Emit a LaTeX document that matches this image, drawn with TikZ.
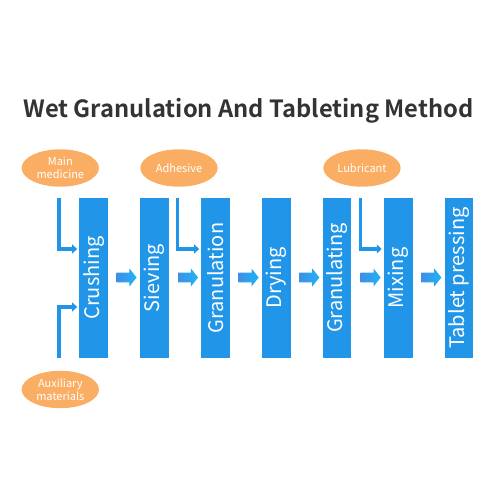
\documentclass[tikz,border=0pt]{standalone}
\usepackage{fontspec}
\setmainfont{Noto Sans CJK SC}[BoldFont={Noto Sans CJK SC Bold}]
\usetikzlibrary{arrows.meta,shapes.arrows,shapes.geometric}
\definecolor{barblue}{HTML}{2196E9}
\definecolor{arrL}{HTML}{3F8FE5}
\definecolor{arrR}{HTML}{1EB4F7}
\definecolor{ellor}{HTML}{FAAE64}
\definecolor{titlegray}{HTML}{333333}
\tikzset{
  bar/.style={rectangle, fill=barblue, minimum width=28.7pt, minimum height=159.5pt, inner sep=0pt},
  barlabel/.style={rotate=90, text=white, font=\fontsize{20}{22}\selectfont, inner sep=0pt},
  ing/.style={ellipse, fill=ellor, minimum width=77.4pt, minimum height=37.4pt, inner sep=0pt, text=white, align=center, font=\fontsize{11}{12.5}\selectfont},
  feed/.style={draw=barblue, line width=3.3pt, -{Triangle[length=5pt,width=9pt]}, shorten >=2pt},
  blk/.style={single arrow, minimum height=20pt, inner xsep=0pt, inner ysep=4.65pt, text height=0pt, text depth=0pt, text width=0pt, single arrow head extend=4.15pt, single arrow tip angle=103, left color=arrL, right color=arrR, shading angle=90},
}
\begin{document}
\begin{tikzpicture}[x=1pt,y=-1pt]
\useasboundingbox (0,0) rectangle (500,500);
\node[font=\bfseries\fontsize{23.7}{26}\selectfont, text=titlegray] (title) at (248.5,111) {Wet Granulation And Tableting Method};
% ingredient ellipses
\node[ing] (main) at (60.3,168) {Main\\medicine};
\node[ing] (adh) at (179,168) {Adhesive};
\node[ing] (lub) at (362,168) {Lubricant};
\node[ing] (aux) at (60.3,389.5) {Auxiliary\\materials};
% bars
\foreach \n/\x/\t in {crush/93.7/Crushing, siev/154.2/Sieving, gran/215.7/Granulation, dry/276.3/Drying, granu/337/Granulating, mix/398.3/Mixing, tab/459/Tablet pressing}{
  \node[bar] (\n) at (\x,278) {};
  \node[barlabel] (\n-t) at (\x,278) {\t};
}
% block arrows
\foreach \a/\b/\n in {crush/siev/a1, siev/gran/a2, gran/dry/a3, dry/granu/a4, granu/mix/a5, mix/tab/a6}{
  \node[blk] (\n) at ([xshift=-15pt]\b.west |- 0,277.5) {};
}
% feed lines
\coordinate (m0) at (59,198);
\coordinate (x0) at (59,358);
\coordinate (ad0) at (177.7,198);
\coordinate (lu0) at (360.5,198);
\coordinate (ym) at (0,249);
\coordinate (yx) at (0,307);
\draw[feed] (m0) |- (crush.west |- ym);
\draw[feed] (x0) |- (crush.west |- yx);
\draw[feed] (ad0) |- (gran.west |- ym);
\draw[feed] (lu0) |- (mix.west |- ym);
\end{tikzpicture}
\end{document}
